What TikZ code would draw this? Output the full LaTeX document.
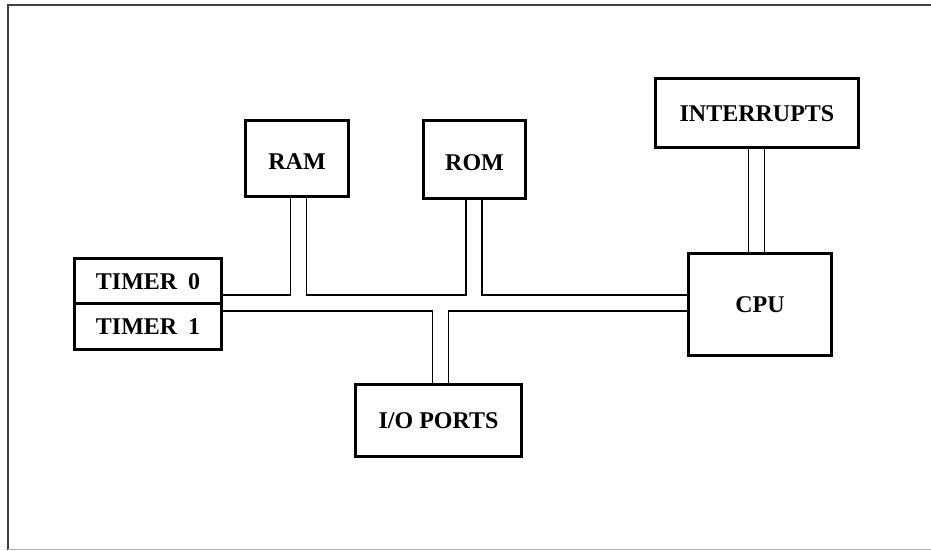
\documentclass[tikz,border=0pt]{standalone}
\usepackage{fontspec}
\setmainfont{Liberation Serif}
\begin{document}
\begin{tikzpicture}[x=1pt,y=-1pt,
  box/.style={draw, line width=3pt, inner sep=0pt, font=\bfseries\fontsize{24}{28}\selectfont, text height=16pt, text depth=0pt},
  lowtext/.style={text height=21pt},
  bus/.style={line width=1.2pt}]
\useasboundingbox (0,0) rectangle (931,550);
% outer frame
\draw[line width=2pt, color=black!75] (8,550) -- (8,5) -- (931,5);
\draw[line width=1pt, color=black!30] (8,549.5) -- (931,549.5);
% blocks
\node[box, lowtext, minimum width=103pt, minimum height=76pt] (ram) at (297,158.5) {RAM};
\node[box, lowtext, minimum width=102pt, minimum height=78pt] (rom) at (474.5,159.5) {ROM};
\node[box, minimum width=203pt, minimum height=69pt] (int) at (757,113) {INTERRUPTS};
\node[box, minimum width=143pt, minimum height=102pt] (cpu) at (760,304.5) {CPU};
\node[box, minimum width=166pt, minimum height=72pt] (io) at (438.5,420.5) {I/O PORTS};
\node[box, minimum width=147pt, minimum height=45pt] (timer0) at (148,281) {TIMER\hspace{0.45em}0};
\node[box, minimum width=147pt, minimum height=46pt] (timer1) at (148,326.5) {TIMER\hspace{0.45em}1};
% bus junctions
\coordinate (jRamL) at (290.5,295);
\coordinate (jRamR) at (306.5,295);
\coordinate (jRomL) at (466,295);
\coordinate (jRomR) at (482,295);
\coordinate (jIoL) at (432.5,311);
\coordinate (jIoR) at (448.5,311);
\coordinate (jIntL) at (748.5,200);
\coordinate (jIntR) at (764.5,200);
% bus lines
\draw[bus] (timer0.east |- jRamL) -- (jRamL) -- (ram.south -| jRamL);
\draw[bus] (ram.south -| jRamR) -- (jRamR) -- (jRomL) -- (rom.south -| jRomL);
\draw[bus] (rom.south -| jRomR) -- (jRomR) -- (cpu.west |- jRomR);
\draw[bus] (timer1.east |- jIoL) -- (jIoL) -- (io.north -| jIoL);
\draw[bus] (io.north -| jIoR) -- (jIoR) -- (cpu.west |- jIoR);
\draw[bus] (int.south -| jIntL) -- (cpu.north -| jIntL);
\draw[bus] (int.south -| jIntR) -- (cpu.north -| jIntR);
\end{tikzpicture}
\end{document}
